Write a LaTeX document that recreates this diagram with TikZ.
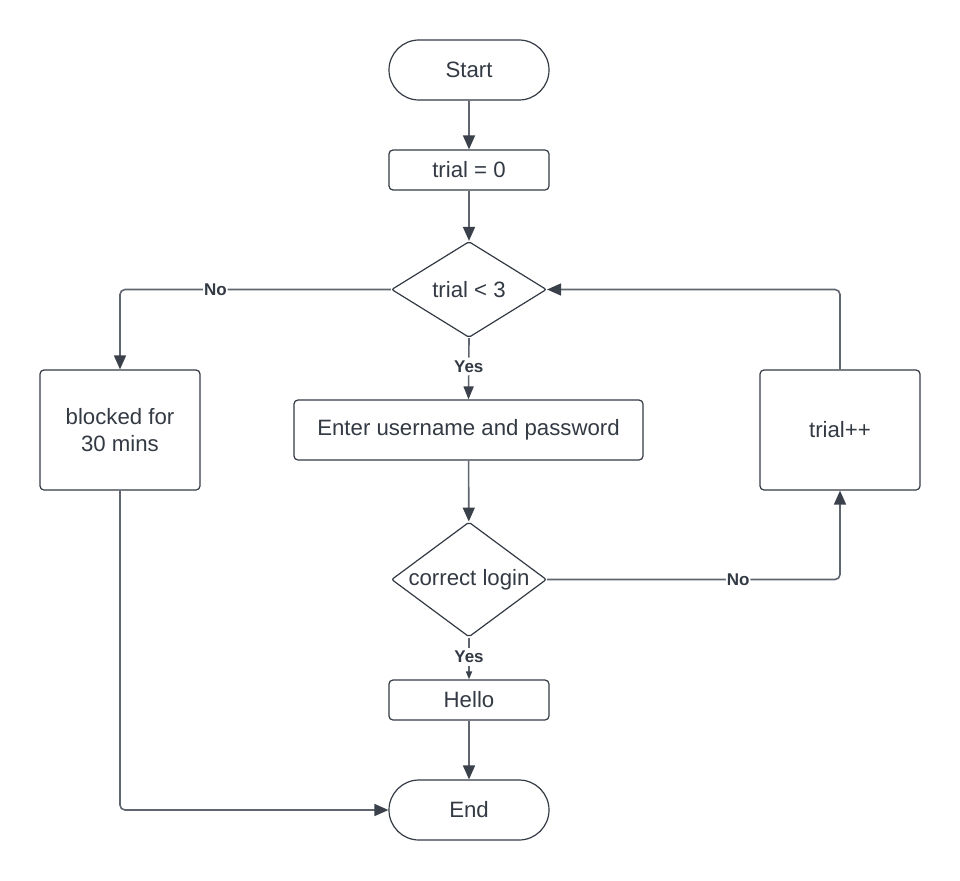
\documentclass[tikz,border=0pt]{standalone}
\usepackage{fontspec}
\setmainfont{Liberation Sans}
\usetikzlibrary{shapes.geometric,shapes.misc,arrows.meta}
\definecolor{ink}{HTML}{333A44}
\definecolor{edgec}{HTML}{5F6670}
\definecolor{tipc}{HTML}{3A414B}
\begin{document}
\begin{tikzpicture}[x=1pt,y=-1pt,
  every node/.style={text=ink, font=\fontsize{22.2}{26.5}\selectfont},
  proc/.style={draw=ink, line width=1.2pt, rounded corners=4pt, rectangle, inner sep=0pt, align=center},
  term/.style={draw=ink, line width=1.2pt, rounded rectangle, minimum width=160pt, minimum height=60pt, inner sep=0pt},
  dec/.style={draw=ink, line width=1.2pt, diamond, minimum width=155pt, inner sep=0pt, rounded corners=2pt},
  flow/.style={draw=edgec, line width=1.6pt, rounded corners=5pt, -{Triangle[length=14pt,width=12pt,color=tipc]}},
  mid/.style={-{Triangle[length=13pt,width=10pt,color=tipc]}},
  short/.style={-{Triangle[length=8pt,width=6pt,color=tipc]}},
  lbl/.style={fill=white, inner xsep=1pt, inner ysep=3pt, font=\bfseries\fontsize{17}{20}\selectfont}
]
% canvas
\fill[white] (0,0) rectangle (960,880);

% shapes
\node[term] (start) at (469,70) {Start};
\node[proc, minimum width=160pt, minimum height=40pt] (init) at (469,170) {trial = 0};
\node[dec, minimum height=96pt, label={center:trial < 3}] (d1) at (469,289.5) {};
\node[proc, minimum width=349pt, minimum height=60pt] (enter) at (468.5,430) {Enter username and password};
\node[dec, minimum height=115pt, label={center:correct login}] (d2) at (469,579.5) {};
\node[proc, minimum width=160pt, minimum height=40pt] (hello) at (469,700) {Hello};
\node[term] (end) at (469,810) {End};
\node[proc, minimum width=160pt, minimum height=120pt] (blocked) at (120,430) {blocked for\\30 mins};
\node[proc, minimum width=160pt, minimum height=120pt] (inc) at (840,430) {trial++};

% connectors
\draw[flow] (start) -- (init);
\draw[flow] (init) -- (d1);
\draw[flow] (d1.west) -| node[lbl, pos=0.324] {No} (blocked.north);
\draw[flow, mid] (d1.south) -- node[lbl, pos=0.464] {Yes} (enter.north);
\draw[flow] (enter) -- (d2);
\draw[flow] (d2.east) -| node[lbl, pos=0.326] {No} (inc.south);
\draw[flow] (inc.north) |- (d1.east);
\draw[flow, short] (d2.south) -- node[lbl, pos=0.465] {Yes} (hello.north);
\draw[flow] (hello) -- (end);
\draw[flow] (blocked.south) |- (end.west);
\end{tikzpicture}
\end{document}
